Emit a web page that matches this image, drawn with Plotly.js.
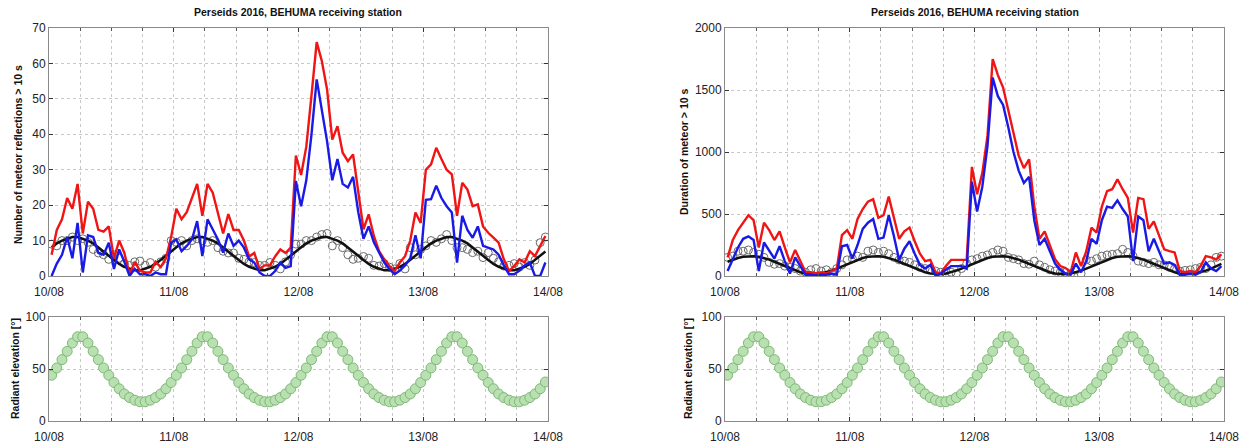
<!DOCTYPE html>
<html>
<head>
<meta charset="utf-8">
<script src="https://cdn.plot.ly/plotly-3.0.1.min.js"></script>
<style>html,body{margin:0;padding:0;background:#fff;}#chart{width:1250px;height:448px;}</style>
</head>
<body>
<div id="chart"></div>
<script>
// ---- data (hourly bins from 10/08 00h, one value per hour) ----
var dayLabels = ['10/08', '11/08', '12/08', '13/08', '14/08'];
var chartTitle = 'Perseids 2016, BEHUMA receiving station';

// Left: number of meteor reflections > 10 s
var countTotal = [6,13,16,22,19,26,12,21,19,13,12.5,14,5,10,6.5,0.5,4,1.5,1,1,4,2.5,5,11,
  19,16,18,22,26,17,26,23.5,18,12,17.5,13,13,10,5.5,6.5,2,3,3,5.5,7.5,6.5,8,34,
  28.5,36.5,51,66,60.6,52.6,38.5,42.3,34.8,32.4,34.3,23.5,13.2,17.4,11.3,7,4.7,2.8,1.4,3.8,5.6,10,17.9,15,
  30,31.5,36.2,33,30,28.7,17,26.3,24.4,19.7,20.2,14,12.2,10.8,9.4,4.7,1.4,2.8,4.7,3.8,7,5.6,8.5,11.3];
var countCorr = [0,3.5,6,11,5,15,1,11.5,11,6.5,6,9.4,2,7.5,4,0,2,0.5,0.5,0,1,0.5,0.5,9.4,
  10.3,7,8.5,10.3,15.5,5.6,16,13,10.3,6.6,12,8.5,10,8,4.7,3.8,1,0,0,1.4,3.8,2.3,2.8,26.8,
  19.7,27,40,55.5,47,38,27,33,26,25,28,18,10.5,14,9.5,6.5,3.8,1.9,0.5,1.5,3,5,11.5,5,
  21.5,21.7,25.5,22,19.7,17.9,3.8,17,13,10.8,14,8.5,8,7.5,6,3,0.5,0.5,1.5,3,3.8,0,0,3.8];
var countSporadic = [9,8.5,10,10,11,10,10.5,9.5,7.5,6.5,6,4.7,6,5,3.5,3,4,4.2,3,3.8,2.5,4,5,10,
  9.5,10,8.5,10,10.5,10,9.5,10,8,7,6.5,6.5,5,4.7,4,3.8,3,3,3.8,3,2,4,6,9,
  9,10,10,11,11.7,12,8.5,10,8,6,4.7,5,5.5,5,3,2.8,3.5,2.5,2,3.5,2,8,6,7.5,
  8.5,10,9.5,10.5,11.7,10,8,8,7.5,6.6,7,5.2,6.6,5,4,2.8,3,3.5,2.5,3.8,3,4.5,9.4,11];
var countModel = [8.1,9.2,10,10.6,11,11,10.6,10,9.2,8.1,6.9,5.7,4.5,3.4,2.6,2,1.6,1.6,2,2.6,3.4,4.5,5.7,6.9,
  8.1,9.2,10,10.6,11,11,10.6,10,9.2,8.1,6.9,5.7,4.5,3.4,2.6,2,1.6,1.6,2,2.6,3.4,4.5,5.7,6.9,
  8.1,9.2,10,10.6,11,11,10.6,10,9.2,8.1,6.9,5.7,4.5,3.4,2.6,2,1.6,1.6,2,2.6,3.4,4.5,5.7,6.9,
  8.1,9.2,10,10.6,11,11,10.6,10,9.2,8.1,6.9,5.7,4.5,3.4,2.6,2,1.6,1.6,2,2.6,3.4,4.5,5.7,6.9];

// Right: duration of meteor echoes > 10 s
var durTotal = [150,290,370,430,490,450,230,430,370,290,360,230,110,210,120,30,30,20,30,20,40,60,330,370,
  300,460,540,600,620,470,490,640,470,300,360,390,280,180,120,130,30,20,80,130,130,130,130,880,
  660,830,1130,1750,1620,1520,1340,1155,970,870,940,560,300,360,240,135,80,65,30,190,80,200,390,350,
  560,685,700,780,700,630,350,630,620,380,440,335,215,200,190,40,30,40,30,80,160,150,135,175];
var durCorr = [40,140,230,300,320,290,40,270,200,140,240,120,20,150,80,10,10,5,10,10,20,10,240,250,
  140,250,380,430,460,300,310,490,320,130,220,280,180,90,60,90,0,20,50,80,80,80,60,760,
  520,720,1050,1600,1450,1380,1200,1000,850,750,800,450,250,300,200,100,50,20,10,100,30,120,300,260,
  450,560,550,610,540,480,120,480,450,200,300,200,100,110,90,10,10,20,10,30,110,60,40,80];
var durSporadic = [150,160,200,200,210,190,175,150,110,95,100,80,70,60,40,30,50,60,40,50,30,60,90,130,
  140,160,150,200,210,190,200,180,150,130,120,110,90,70,60,50,40,30,40,30,20,60,100,130,
  140,160,170,190,210,200,150,140,130,100,95,120,90,70,50,40,30,30,20,50,20,130,120,140,
  160,170,175,180,215,190,160,120,110,100,110,90,90,70,60,40,45,50,60,70,60,90,150,160];
var durModel = [115,132,145,155,159,159,155,145,132,115,97,78,60,43,30,21,16,16,21,30,43,60,78,97,
  115,132,145,155,159,159,155,145,132,115,97,78,60,43,30,21,16,16,21,30,43,60,78,97,
  115,132,145,155,159,159,155,145,132,115,97,78,60,43,30,21,16,16,21,30,43,60,78,97,
  115,132,145,155,159,159,155,145,132,115,97,78,60,43,30,21,16,16,21,30,43,60,78,97];

// Radiant elevation (degrees)
var radiantElev = [44,51,59,67,75,81,81,75,67,59,51,44,37,31,26,22.5,20,18.5,18.5,20,22.5,26,31,37,
  44,51,59,67,75,81,81,75,67,59,51,44,37,31,26,22.5,20,18.5,18.5,20,22.5,26,31,37,
  44,51,59,67,75,81,81,75,67,59,51,44,37,31,26,22.5,20,18.5,18.5,20,22.5,26,31,37,
  44,51,59,67,75,81,81,75,67,59,51,44,37,31,26,22.5,20,18.5,18.5,20,22.5,26,31,37.5];

// hour stamps: centre of each hourly bin
var hours = countTotal.map(function (_, i) { return i + 0.5; });

// ---- styling ----
var FONT = 'Liberation Sans, Arial, Helvetica, sans-serif';
var RED = '#f01414', BLUE = '#1a1ae6', BLACK = '#111111';

function lineTrace(y, color, width, xa, ya) {
  return {x: hours, y: y, type: 'scatter', mode: 'lines', xaxis: xa, yaxis: ya,
    line: {color: color, width: width}, hoverinfo: 'skip', showlegend: false};
}
function circleTrace(y, xa, ya) {
  return {x: hours, y: y, type: 'scatter', mode: 'markers', xaxis: xa, yaxis: ya,
    marker: {symbol: 'circle-open', size: 8, color: '#6a6a6a', line: {width: 1}},
    hoverinfo: 'skip', showlegend: false};
}
function greenTrace(xa, ya) {
  return {x: hours, y: radiantElev, type: 'scatter', mode: 'markers', xaxis: xa, yaxis: ya,
    marker: {symbol: 'circle', size: 10, color: '#b8e0b0', line: {color: '#7fb877', width: 1}},
    hoverinfo: 'skip', showlegend: false};
}

var traces = [
  circleTrace(countSporadic, 'x', 'y'),
  lineTrace(countModel, BLACK, 2.5, 'x', 'y'),
  lineTrace(countTotal, RED, 2.4, 'x', 'y'),
  lineTrace(countCorr, BLUE, 2.4, 'x', 'y'),
  circleTrace(durSporadic, 'x2', 'y2'),
  lineTrace(durModel, BLACK, 2.5, 'x2', 'y2'),
  lineTrace(durTotal, RED, 2.4, 'x2', 'y2'),
  lineTrace(durCorr, BLUE, 2.4, 'x2', 'y2'),
  greenTrace('x3', 'y3'),
  greenTrace('x4', 'y4')
];

var GRID = '#c8c8c8';
function xAxis(domain, anchor) {
  return {domain: domain, anchor: anchor, range: [0, 96], tickmode: 'array',
    tickvals: [0, 24, 48, 72, 96], ticktext: dayLabels,
    showgrid: true, gridcolor: GRID, griddash: 'dot', gridwidth: 1,
    ticks: 'inside', ticklen: 4, tickcolor: '#333', mirror: 'ticks',
    showline: true, linecolor: '#8a8a8a', linewidth: 1, zeroline: false,
    ticklabelstandoff: 5,
    tickfont: {family: FONT, size: 12, color: '#222'},
    minor: {tickmode: 'linear', tick0: 0, dtick: 6, showgrid: true, gridcolor: GRID,
      griddash: 'dot', gridwidth: 1, ticks: 'inside', ticklen: 3, tickcolor: '#555'},
    fixedrange: true};
}
function yAxis(domain, anchor, range, dtick) {
  return {domain: domain, anchor: anchor, range: range, dtick: dtick, tick0: 0,
    showgrid: true, gridcolor: GRID, griddash: 'dot', gridwidth: 1,
    ticks: 'inside', ticklen: 4, tickcolor: '#333', mirror: 'ticks',
    showline: true, linecolor: '#8a8a8a', linewidth: 1, zeroline: false,
    tickfont: {family: FONT, size: 12, color: '#222'}, fixedrange: true};
}

var LX = [49 / 1250, 548 / 1250], RX = [725 / 1250, 1224 / 1250];
var TY = [(448 - 276) / 448, (448 - 28) / 448], BY = [(448 - 421) / 448, (448 - 317) / 448];

function ann(text, xpx, ypx, angle) {
  return {text: text, xref: 'paper', yref: 'paper', x: xpx / 1250, y: 1 - ypx / 448,
    xanchor: 'center', yanchor: 'middle', showarrow: false, textangle: angle || 0,
    font: {family: FONT, size: 10.5, color: '#111', weight: 'bold'}};
}

var layout = {
  width: 1250, height: 448, margin: {l: 0, r: 0, t: 0, b: 0},
  paper_bgcolor: '#ffffff', plot_bgcolor: '#ffffff', showlegend: false,
  xaxis: xAxis(LX, 'y'), yaxis: yAxis(TY, 'x', [0, 70], 10),
  xaxis2: xAxis(RX, 'y2'), yaxis2: yAxis(TY, 'x2', [0, 2000], 500),
  xaxis3: xAxis(LX, 'y3'), yaxis3: yAxis(BY, 'x3', [0, 100], 50),
  xaxis4: xAxis(RX, 'y4'), yaxis4: yAxis(BY, 'x4', [0, 100], 50),
  annotations: [
    ann(chartTitle, 298, 12),
    ann(chartTitle, 975, 12),
    ann('Number of meteor reflections &gt; 10 s', 18, 155, -90),
    ann('Duration of meteor &gt; 10 s', 684, 152, -90),
    ann('Radiant elevation [°]', 15, 369, -90),
    ann('Radiant elevation [°]', 688, 369, -90)
  ]
};

Plotly.newPlot('chart', traces, layout, {staticPlot: true, displayModeBar: false});
</script>
</body>
</html>
